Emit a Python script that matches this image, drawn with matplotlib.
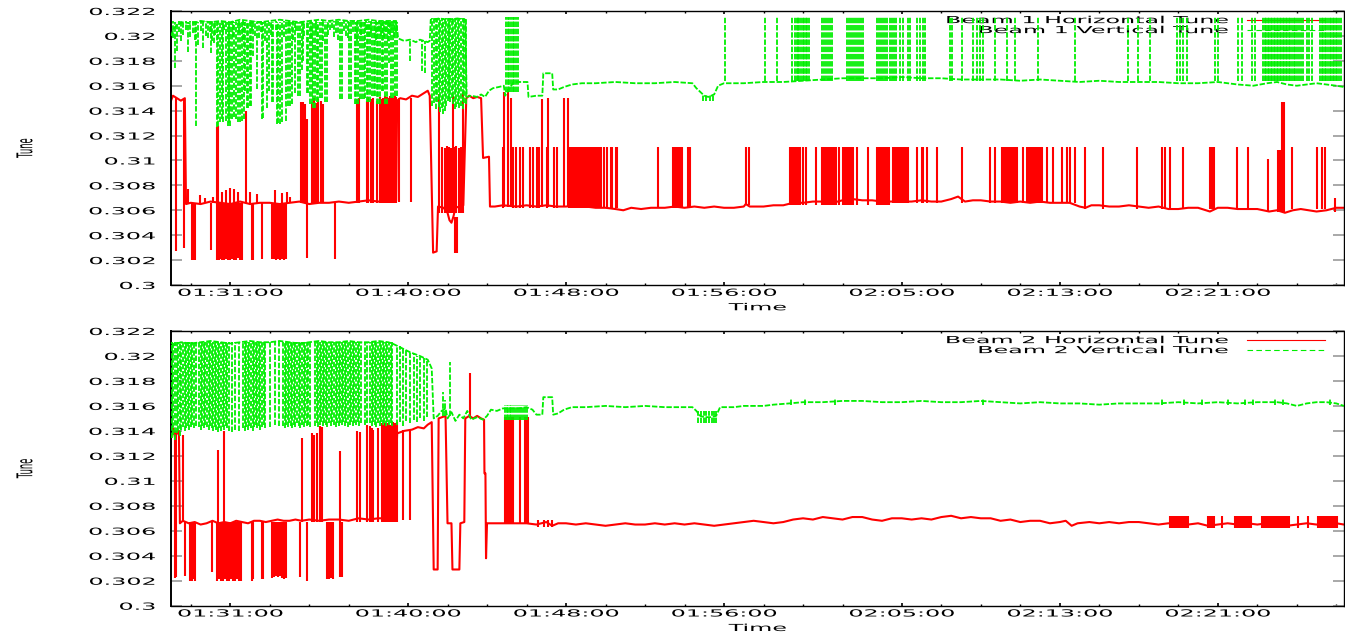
import matplotlib
matplotlib.use("Agg")
import matplotlib.pyplot as plt
from matplotlib.lines import Line2D
from matplotlib.patheffects import AbstractPathEffect
from matplotlib.transforms import Affine2D

# time axis: minutes after 01:28:00
major_t = [3, 12, 20, 28, 37, 45, 53]
major_lab = ["01:31:00", "01:40:00", "01:48:00", "01:56:00", "02:05:00", "02:13:00", "02:21:00"]
minor_t = [1, 5, 7, 9, 14, 16, 18, 22, 24, 26, 30, 32, 34, 39, 41, 43, 47, 49, 51, 55, 57, 59]
ytick_v = [0.300, 0.302, 0.304, 0.306, 0.308, 0.310, 0.312, 0.314, 0.316, 0.318, 0.320, 0.322]
ytick_lab = ["0.3", "0.302", "0.304", "0.306", "0.308", "0.31", "0.312", "0.314", "0.316", "0.318", "0.32", "0.322"]

# ---------------- Beam 1 horizontal tune ----------------
b1h_t = [0.00, 0.10, 0.30, 0.50, 0.70, 0.76, 1.00, 1.50, 2.00, 2.50,
         3.00, 3.50, 4.00, 4.50, 5.00, 5.50, 6.00, 6.50, 7.00, 7.50,
         8.00, 8.50, 9.00, 9.50, 10.00, 10.50, 11.00, 11.40, 11.45, 11.60,
         11.90, 12.20, 12.50, 12.80, 13.00, 13.10, 13.27, 13.45, 13.52, 13.80,
         14.00, 14.10, 14.20, 14.30, 14.40, 14.60, 14.80, 14.95, 15.10, 15.30,
         15.50, 15.70, 15.80, 16.10, 16.15, 16.40, 16.80, 17.50, 18.00, 18.50,
         19.00, 19.50, 20.00, 20.50, 21.00, 21.50, 22.00, 22.50, 22.90, 23.30,
         23.80, 24.30, 25.00, 25.50, 26.00, 26.50, 27.00, 27.50, 28.00, 28.50,
         29.00, 29.10, 29.30, 30.00, 30.50, 31.00, 31.50, 32.00, 32.50, 33.00,
         33.50, 34.00, 34.50, 35.00, 35.50, 36.00, 36.50, 37.00, 37.50, 38.00,
         38.50, 39.00, 39.50, 39.85, 40.20, 40.60, 41.00, 41.50, 42.00, 42.50,
         43.00, 43.50, 44.00, 44.50, 45.00, 45.50, 46.00, 46.30, 46.60, 47.00,
         47.50, 48.00, 48.50, 49.00, 49.50, 50.00, 50.50, 51.00, 51.50, 52.00,
         52.60, 53.00, 53.50, 54.00, 54.50, 55.00, 55.60, 56.00, 56.40, 56.80,
         57.20, 57.60, 58.00, 58.50, 59.00, 59.39]
b1h_v = [0.3148, 0.3152, 0.3150, 0.3148, 0.3150, 0.3065, 0.3066, 0.3065, 0.3067, 0.3066,
         0.3065, 0.3067, 0.3065, 0.3066, 0.3066, 0.3065, 0.3066, 0.3067, 0.3065, 0.3066,
         0.3066, 0.3067, 0.3066, 0.3067, 0.3068, 0.3067, 0.3068, 0.3068, 0.3148, 0.3150,
         0.3149, 0.3152, 0.3151, 0.3154, 0.3156, 0.3152, 0.3026, 0.3027, 0.3063, 0.3062,
         0.3058, 0.3052, 0.3050, 0.3055, 0.3062, 0.3063, 0.3064, 0.3150, 0.3152, 0.3150,
         0.3151, 0.3150, 0.3102, 0.3103, 0.3063, 0.3063, 0.3064, 0.3063, 0.3064, 0.3063,
         0.3064, 0.3063, 0.3063, 0.3064, 0.3063, 0.3062, 0.3062, 0.3061, 0.3060, 0.3062,
         0.3061, 0.3062, 0.3062, 0.3063, 0.3062, 0.3063, 0.3062, 0.3063, 0.3062, 0.3062,
         0.3063, 0.3065, 0.3063, 0.3063, 0.3064, 0.3064, 0.3066, 0.3066, 0.3067, 0.3067,
         0.3066, 0.3068, 0.3069, 0.3068, 0.3068, 0.3067, 0.3067, 0.3067, 0.3067, 0.3068,
         0.3067, 0.3067, 0.3069, 0.3071, 0.3067, 0.3068, 0.3068, 0.3067, 0.3067, 0.3066,
         0.3067, 0.3066, 0.3067, 0.3066, 0.3066, 0.3066, 0.3063, 0.3062, 0.3064, 0.3064,
         0.3063, 0.3063, 0.3064, 0.3063, 0.3062, 0.3063, 0.3061, 0.3061, 0.3062, 0.3062,
         0.3059, 0.3062, 0.3062, 0.3061, 0.3061, 0.3061, 0.3059, 0.3060, 0.3058, 0.3060,
         0.3061, 0.3060, 0.3059, 0.3060, 0.3062, 0.3062]

# excursions drawn as vertical strokes: times, low end, high end
b1h_start_dn_t = [0.25, 0.66]
b1h_start_dn_lo = [0.3027, 0.3030]
b1h_start_dn_hi = 0.3150

b1h_dn_t = [1.06, 1.11, 1.16, 1.22, 2.03, 2.33, 2.43, 2.53, 2.58, 2.68,
            2.78, 2.89, 2.99, 3.09, 3.19, 3.29, 3.39, 3.49, 3.59, 4.10,
            4.15, 4.61, 5.11, 5.22, 5.32, 5.42, 5.52, 5.62, 5.72, 5.82,
            6.89, 8.30]
b1h_dn_lo = [0.3020, 0.3020, 0.3021, 0.3020, 0.3028, 0.3020, 0.3020, 0.3021, 0.3020, 0.3020,
             0.3021, 0.3020, 0.3020, 0.3021, 0.3020, 0.3020, 0.3022, 0.3020, 0.3020, 0.3020,
             0.3020, 0.3021, 0.3021, 0.3021, 0.3020, 0.3021, 0.3020, 0.3021, 0.3020, 0.3021,
             0.3022, 0.3021]
b1h_dn_hi = 0.3066

b1h_up_t = [0.86, 1.47, 1.72, 2.13, 2.33, 2.38, 2.58, 2.78, 2.99, 3.19,
            3.39, 3.80, 4.00, 4.35, 5.27, 5.62, 5.87, 6.03, 6.58, 6.68,
            6.78, 6.89, 7.14, 7.24, 7.34, 7.44, 7.59, 7.70, 9.42, 9.52,
            9.92, 9.97, 10.13, 10.23, 10.43, 10.58, 10.66, 10.73, 10.81, 10.88,
            10.94, 11.01, 11.07, 11.14, 11.20, 11.27, 11.33, 11.40]
b1h_up_hi = [0.3077, 0.3072, 0.3070, 0.3071, 0.3127, 0.3128, 0.3075, 0.3076, 0.3078, 0.3077,
             0.3075, 0.3140, 0.3075, 0.3073, 0.3076, 0.3074, 0.3075, 0.3071, 0.3147, 0.3147,
             0.3145, 0.3133, 0.3147, 0.3150, 0.3146, 0.3149, 0.3148, 0.3145, 0.3149, 0.3150,
             0.3148, 0.3151, 0.3149, 0.3150, 0.3148, 0.3151, 0.3149, 0.3150, 0.3152, 0.3149,
             0.3151, 0.3150, 0.3152, 0.3149, 0.3151, 0.3150, 0.3152, 0.3151]
b1h_up_lo = 0.3066

b1h_back_t = [11.52, 12.15]
b1h_back_lo = 0.3067
b1h_back_hi = 0.3150

b1h_mid_t = [13.55, 13.72, 13.87, 13.97, 14.08, 14.18, 14.28, 14.33, 14.43, 14.58, 14.68, 14.78]
b1h_mid_hi = [0.3153, 0.3111, 0.3110, 0.3112, 0.3111, 0.3110, 0.3152, 0.3111, 0.3112, 0.3110, 0.3111, 0.3155]
b1h_mid_lo = 0.3058
b1h_mid_dn_t = [14.38, 14.48]
b1h_mid_dn_lo = 0.3026
b1h_mid_dn_hi = 0.3055

b1h_tall_t = [16.86, 17.06, 17.21, 18.77, 19.09, 19.90, 20.10]
b1h_tall_hi = [0.3155, 0.3157, 0.3150, 0.3149, 0.3150, 0.3150, 0.3150]
b1h_tall_lo = 0.3063

b1h_med_a_t = [16.81, 17.32, 17.47, 17.67, 17.82, 18.18, 18.33, 18.53, 18.63, 19.04,
               19.39, 19.54, 20.15, 20.22, 20.28, 20.35, 20.41, 20.47, 20.54, 20.60,
               20.66, 20.73, 20.80, 20.86, 20.92, 21.00, 21.07, 21.13, 21.20, 21.26,
               21.33, 21.41, 21.47, 21.55, 21.62, 21.70, 21.76, 21.92, 22.10, 22.27,
               22.35, 22.52, 22.60, 24.66, 25.42, 25.52, 25.62, 25.67, 25.77, 25.87,
               26.18, 26.28]
b1h_med_a_lo = 0.3062
b1h_med_b_t = [29.13, 29.25, 31.34, 31.42, 31.49, 31.57, 31.65, 31.75, 31.85, 32.00,
               32.15, 32.66, 32.96, 33.06, 33.16, 33.27, 33.37, 33.47, 33.57, 33.67,
               33.82, 34.03, 34.13, 34.23, 34.33, 34.43, 34.53, 34.73, 35.29, 35.75,
               35.85, 35.95, 36.05, 36.15, 36.25, 36.35]
b1h_med_b_lo = 0.3064
b1h_med_c_t = [36.56, 36.63, 36.71, 36.80, 36.88, 36.96, 37.05, 37.15, 37.25, 37.32,
               37.77, 38.03, 38.08, 38.28, 38.78, 40.05, 41.47, 41.72, 42.08, 42.15,
               42.23, 42.30, 42.38, 42.46, 42.54, 42.62, 42.70, 42.78, 42.84, 43.14,
               43.34, 43.40, 43.47, 43.55, 43.62, 43.70, 43.78, 43.86, 43.94, 44.00,
               44.10, 44.35, 44.66, 45.11, 45.37, 45.52, 45.77]
b1h_med_c_lo = 0.3066
b1h_med_d_t = [46.28, 47.19, 48.91, 50.18, 50.33, 50.58, 51.24, 52.61, 52.71, 52.81,
               53.96, 54.53, 56.76, 58.03, 58.28, 58.43]
b1h_med_d_lo = 0.3061
b1h_med_hi = 0.3111

b1h_late_t = [55.54, 56.05, 56.15, 56.25, 56.30, 56.35, 58.94]
b1h_late_hi = [0.3101, 0.3108, 0.3108, 0.3147, 0.3147, 0.3147, 0.3070]
b1h_late_lo = 0.3059

# ---------------- Beam 1 vertical tune ----------------
b1v_t = [0.00, 0.15, 0.30, 0.60, 1.00, 1.50, 2.00, 2.50, 3.00, 3.50,
         4.00, 4.50, 5.00, 5.50, 6.00, 6.50, 7.00, 7.50, 8.00, 8.50,
         9.00, 9.50, 10.00, 10.50, 11.00, 11.40, 11.50, 11.80, 12.10, 12.40,
         12.60, 12.80, 13.00, 13.10, 13.15, 13.60, 14.00, 14.50, 14.90, 14.97,
         15.20, 15.50, 15.70, 15.90, 16.10, 16.30, 16.60, 16.85, 16.92, 17.10,
         17.35, 17.70, 18.05, 18.10, 18.50, 18.80, 18.85, 19.30, 19.35, 19.60,
         19.90, 20.30, 20.80, 21.50, 22.50, 23.50, 24.50, 25.50, 26.40, 26.60,
         26.80, 27.00, 27.20, 27.50, 27.70, 28.00, 29.00, 30.00, 31.00, 32.00,
         33.00, 34.00, 35.00, 36.00, 37.00, 38.00, 39.00, 40.00, 41.00, 42.00,
         43.00, 44.00, 45.00, 46.00, 47.00, 48.00, 49.00, 50.00, 51.00, 52.00,
         53.00, 54.00, 54.80, 55.50, 56.00, 56.50, 57.00, 57.50, 58.00, 58.50,
         59.00, 59.39]
b1v_v = [0.3200, 0.3206, 0.3209, 0.3211, 0.3210, 0.3212, 0.3211, 0.3212, 0.3211, 0.3213,
         0.3212, 0.3211, 0.3212, 0.3213, 0.3212, 0.3211, 0.3212, 0.3213, 0.3212, 0.3213,
         0.3212, 0.3212, 0.3213, 0.3212, 0.3212, 0.3212, 0.3198, 0.3196, 0.3197, 0.3195,
         0.3197, 0.3196, 0.3195, 0.3196, 0.3213, 0.3214, 0.3213, 0.3214, 0.3213, 0.3151,
         0.3152, 0.3151, 0.3153, 0.3151, 0.3156, 0.3158, 0.3159, 0.3160, 0.3152, 0.3157,
         0.3163, 0.3163, 0.3163, 0.3151, 0.3152, 0.3152, 0.3170, 0.3170, 0.3157, 0.3157,
         0.3159, 0.3161, 0.3162, 0.3162, 0.3163, 0.3162, 0.3162, 0.3163, 0.3162, 0.3158,
         0.3155, 0.3152, 0.3151, 0.3153, 0.3160, 0.3162, 0.3162, 0.3163, 0.3163, 0.3164,
         0.3165, 0.3166, 0.3166, 0.3166, 0.3167, 0.3166, 0.3166, 0.3165, 0.3165, 0.3165,
         0.3164, 0.3165, 0.3164, 0.3163, 0.3164, 0.3163, 0.3163, 0.3163, 0.3162, 0.3162,
         0.3163, 0.3161, 0.3160, 0.3162, 0.3163, 0.3161, 0.3160, 0.3161, 0.3162, 0.3161,
         0.3160, 0.3159]

b1v_dn_t = [0.20, 0.30, 0.86, 1.27, 1.37, 1.62, 2.03, 2.18, 2.33, 2.38,
            2.48, 2.58, 2.63, 2.78, 2.89, 2.94, 2.99, 3.09, 3.19, 3.29,
            3.39, 3.49, 3.59, 3.70, 3.75, 3.85, 3.90, 4.00, 4.05, 4.15,
            4.35, 4.61, 4.66, 4.86, 4.96, 5.11, 5.16, 5.37, 5.42, 5.52,
            5.62, 5.82, 5.92, 6.03, 6.13, 6.28, 6.43, 6.53, 6.63, 6.68,
            6.89, 6.94, 7.04, 7.14, 7.19, 7.29, 7.39, 7.44, 7.54, 7.65,
            7.80, 7.90, 8.15, 8.56, 8.66, 9.01, 9.11, 9.32, 9.37, 9.47,
            9.57, 9.67, 9.77, 9.82, 9.92, 9.97, 10.08, 10.18, 10.28, 10.33,
            10.43, 10.48, 10.58, 10.68, 10.73, 10.84, 10.94, 11.04, 11.14, 11.24,
            11.34, 11.44]
b1v_dn_lo = [0.3174, 0.3188, 0.3187, 0.3128, 0.3193, 0.3190, 0.3186, 0.3194, 0.3127, 0.3128,
             0.3131, 0.3133, 0.3131, 0.3132, 0.3128, 0.3130, 0.3128, 0.3133, 0.3135, 0.3133,
             0.3131, 0.3131, 0.3132, 0.3133, 0.3156, 0.3142, 0.3142, 0.3144, 0.3144, 0.3184,
             0.3157, 0.3133, 0.3134, 0.3142, 0.3156, 0.3147, 0.3147, 0.3129, 0.3130, 0.3129,
             0.3131, 0.3132, 0.3144, 0.3144, 0.3145, 0.3154, 0.3152, 0.3152, 0.3173, 0.3180,
             0.3154, 0.3154, 0.3145, 0.3145, 0.3142, 0.3142, 0.3147, 0.3147, 0.3150, 0.3150,
             0.3147, 0.3147, 0.3206, 0.3149, 0.3149, 0.3149, 0.3149, 0.3145, 0.3145, 0.3145,
             0.3149, 0.3149, 0.3149, 0.3150, 0.3147, 0.3147, 0.3147, 0.3152, 0.3152, 0.3152,
             0.3145, 0.3145, 0.3145, 0.3156, 0.3156, 0.3145, 0.3145, 0.3178, 0.3150, 0.3150,
             0.3152, 0.3152]
b1v_dn_hi = 0.3211

b1v_short_t = [0.08, 0.42, 0.52, 0.62, 0.74, 0.98, 1.10, 1.20, 1.50, 1.75,
               1.85, 1.95, 2.10, 2.25, 2.70, 3.15, 3.45, 3.62, 4.10, 4.25,
               4.45, 4.55, 4.75, 5.05, 5.30, 5.70, 5.98, 6.20, 6.35, 6.75,
               7.10, 7.35, 7.70, 7.97, 8.05, 8.25, 8.35, 8.45, 8.75, 8.85,
               8.95, 9.20, 9.42, 9.62, 9.87, 10.02, 10.13, 10.38, 10.53, 10.63,
               10.78, 10.89, 10.99, 11.09, 11.19, 11.29, 11.39]
b1v_short_lo = [0.3198, 0.3203, 0.3196, 0.3201, 0.3205, 0.3199, 0.3202, 0.3197, 0.3204, 0.3200,
                0.3198, 0.3203, 0.3196, 0.3201, 0.3205, 0.3199, 0.3202, 0.3197, 0.3204, 0.3200,
                0.3198, 0.3203, 0.3196, 0.3201, 0.3205, 0.3199, 0.3202, 0.3197, 0.3204, 0.3200,
                0.3198, 0.3203, 0.3196, 0.3201, 0.3205, 0.3199, 0.3202, 0.3197, 0.3204, 0.3200,
                0.3198, 0.3203, 0.3196, 0.3201, 0.3205, 0.3199, 0.3202, 0.3197, 0.3204, 0.3200,
                0.3198, 0.3203, 0.3196, 0.3201, 0.3205, 0.3199, 0.3202]
b1v_short_hi = 0.3212

b1v_shelf_t = [12.10, 12.71, 12.86]
b1v_shelf_lo = [0.3180, 0.3172, 0.3170]
b1v_shelf_hi = 0.3196

b1v_tog_t = [13.20, 13.30, 13.40, 13.47, 13.55, 13.62, 13.70, 13.78, 13.85, 13.92,
             14.00, 14.08, 14.15, 14.23, 14.30, 14.38, 14.45, 14.53, 14.60, 14.68,
             14.76, 14.84, 14.92]
b1v_tog_lo = [0.3144, 0.3146, 0.3141, 0.3147, 0.3143, 0.3139, 0.3142, 0.3137, 0.3140, 0.3144,
              0.3148, 0.3149, 0.3147, 0.3150, 0.3145, 0.3141, 0.3143, 0.3145, 0.3142, 0.3144,
              0.3141, 0.3146, 0.3145]
b1v_tog_hi = 0.3214

b1v_burst_t = [16.96, 17.05, 17.13, 17.22, 17.30, 17.38, 17.47, 17.55]
b1v_burst_lo = 0.3155
b1v_burst_hi = 0.3215

b1v_dip_t = [26.95, 27.10, 27.30, 27.45]
b1v_dip_lo = 0.3148
b1v_dip_hi = 0.3153

b1v_up_t = [28.05, 30.08, 30.68, 31.44, 31.59, 31.67, 31.75, 31.82, 31.90, 31.98,
            32.05, 32.13, 32.20, 32.30, 32.96, 33.06, 33.16, 33.27, 33.37, 33.47,
            34.23, 34.33, 34.43, 34.53, 34.63, 34.73, 34.83, 34.95, 35.04, 35.75,
            35.85, 35.95, 36.05, 36.15, 36.25, 36.41, 36.50, 36.60, 36.70, 36.91,
            37.06, 37.32, 37.42, 37.77, 37.92, 38.08, 38.18, 39.44, 39.54, 40.05,
            40.61, 40.81, 40.96, 41.11, 41.72, 42.33, 42.73, 43.90, 45.77, 48.46,
            48.96, 49.57, 50.94, 51.09, 51.24, 51.44, 52.86, 53.01, 54.03, 54.23,
            54.73, 54.89, 55.29, 55.37, 55.45, 55.52, 55.60, 55.68, 55.75, 55.83,
            55.90, 55.98, 56.06, 56.13, 56.21, 56.29, 56.36, 56.44, 56.52, 56.60,
            56.68, 56.76, 56.84, 56.92, 57.00, 57.10, 57.20, 57.32, 57.52, 57.62,
            57.77, 58.18, 58.26, 58.34, 58.42, 58.50, 58.58, 58.66, 58.74, 58.82,
            58.90, 58.98, 59.06, 59.14, 59.22]
b1v_up_lo = 0.3164
b1v_up_hi = 0.3215

# ---------------- Beam 2 horizontal tune ----------------
b2h_t = [0.00, 0.10, 0.20, 0.30, 0.40, 0.45, 0.60, 0.90, 1.20, 1.50,
         1.80, 2.10, 2.40, 2.70, 3.00, 3.30, 3.60, 3.90, 4.20, 4.50,
         4.80, 5.10, 5.40, 5.70, 6.00, 6.30, 6.60, 7.00, 7.50, 8.00,
         8.50, 9.00, 9.50, 10.00, 10.50, 11.00, 11.30, 11.45, 11.80, 12.20,
         12.50, 12.80, 13.00, 13.10, 13.20, 13.30, 13.50, 13.55, 13.90, 14.00,
         14.20, 14.25, 14.60, 14.65, 14.85, 14.90, 15.10, 15.30, 15.50, 15.70,
         15.85, 15.87, 15.92, 15.95, 16.00, 16.50, 17.00, 17.50, 18.00, 18.50,
         19.00, 19.30, 19.60, 20.00, 20.50, 21.00, 21.50, 22.00, 22.50, 23.00,
         23.50, 24.00, 24.50, 25.00, 25.50, 26.00, 26.50, 27.00, 27.50, 28.00,
         28.50, 29.00, 29.50, 30.00, 30.50, 31.00, 31.50, 32.00, 32.50, 33.00,
         33.50, 34.00, 34.50, 35.00, 35.50, 36.00, 36.50, 37.00, 37.50, 38.00,
         38.50, 39.00, 39.50, 40.00, 40.50, 41.00, 41.50, 42.00, 42.50, 43.00,
         43.50, 44.00, 44.50, 45.00, 45.30, 45.60, 45.90, 46.50, 47.00, 47.50,
         48.00, 48.50, 49.00, 49.50, 50.00, 50.50, 51.00, 51.50, 52.00, 52.50,
         53.00, 53.50, 54.00, 54.50, 55.00, 55.50, 56.00, 56.50, 57.00, 57.50,
         58.00, 58.50, 59.00, 59.39]
b2h_v = [0.3140, 0.3142, 0.3135, 0.3138, 0.3140, 0.3066, 0.3068, 0.3066, 0.3067, 0.3065,
         0.3066, 0.3068, 0.3066, 0.3067, 0.3066, 0.3068, 0.3067, 0.3066, 0.3068, 0.3068,
         0.3067, 0.3068, 0.3069, 0.3068, 0.3068, 0.3069, 0.3068, 0.3069, 0.3068, 0.3069,
         0.3069, 0.3068, 0.3070, 0.3069, 0.3070, 0.3070, 0.3070, 0.3138, 0.3140, 0.3141,
         0.3143, 0.3142, 0.3145, 0.3146, 0.3147, 0.3029, 0.3029, 0.3150, 0.3152, 0.3066,
         0.3066, 0.3029, 0.3029, 0.3066, 0.3067, 0.3150, 0.3152, 0.3150, 0.3152, 0.3150,
         0.3149, 0.3106, 0.3106, 0.3038, 0.3066, 0.3066, 0.3066, 0.3066, 0.3066, 0.3065,
         0.3067, 0.3064, 0.3066, 0.3066, 0.3065, 0.3066, 0.3065, 0.3064, 0.3065, 0.3066,
         0.3065, 0.3065, 0.3066, 0.3065, 0.3066, 0.3065, 0.3066, 0.3065, 0.3064, 0.3065,
         0.3066, 0.3067, 0.3068, 0.3067, 0.3066, 0.3067, 0.3069, 0.3070, 0.3069, 0.3071,
         0.3070, 0.3069, 0.3071, 0.3071, 0.3069, 0.3068, 0.3070, 0.3070, 0.3069, 0.3070,
         0.3069, 0.3071, 0.3072, 0.3070, 0.3071, 0.3070, 0.3070, 0.3068, 0.3069, 0.3067,
         0.3068, 0.3068, 0.3066, 0.3067, 0.3068, 0.3064, 0.3066, 0.3067, 0.3066, 0.3067,
         0.3066, 0.3067, 0.3067, 0.3066, 0.3065, 0.3066, 0.3065, 0.3065, 0.3066, 0.3064,
         0.3065, 0.3066, 0.3065, 0.3066, 0.3065, 0.3066, 0.3065, 0.3064, 0.3065, 0.3066,
         0.3065, 0.3066, 0.3066, 0.3065]

b2h_start_dn_t = [0.20, 0.25]
b2h_start_dn_lo = [0.3022, 0.3023]
b2h_start_dn_hi = 0.3140

b2h_dn_t = [0.71, 0.96, 1.06, 1.16, 1.22, 2.08, 2.33, 2.43, 2.53, 2.63,
            2.73, 2.83, 2.94, 3.04, 3.14, 3.24, 3.34, 3.44, 3.54, 4.10,
            4.15, 4.61, 4.66, 5.11, 5.22, 5.32, 5.42, 5.52, 5.62, 5.72,
            5.82, 6.53, 6.89, 7.90, 8.00, 8.10, 8.20, 8.56, 8.66]
b2h_dn_lo = [0.3024, 0.3020, 0.3020, 0.3021, 0.3020, 0.3027, 0.3020, 0.3021, 0.3020, 0.3020,
             0.3021, 0.3020, 0.3020, 0.3021, 0.3020, 0.3020, 0.3021, 0.3020, 0.3020, 0.3020,
             0.3021, 0.3021, 0.3021, 0.3022, 0.3023, 0.3024, 0.3023, 0.3024, 0.3022, 0.3021,
             0.3022, 0.3023, 0.3020, 0.3021, 0.3021, 0.3022, 0.3021, 0.3023, 0.3023]
b2h_dn_hi = 0.3067

b2h_up_t = [0.61, 2.38, 2.68, 6.63, 7.14, 7.24, 7.39, 7.54, 7.65, 8.56,
            9.42, 9.57, 9.92, 10.08, 10.18, 10.23, 10.48, 10.68, 10.76, 10.84,
            10.92, 11.00, 11.09, 11.17, 11.25, 11.34, 11.42]
b2h_up_hi = [0.3137, 0.3125, 0.3140, 0.3134, 0.3138, 0.3137, 0.3138, 0.3144, 0.3143, 0.3124,
             0.3140, 0.3139, 0.3145, 0.3144, 0.3142, 0.3141, 0.3142, 0.3146, 0.3145, 0.3146,
             0.3144, 0.3146, 0.3145, 0.3146, 0.3147, 0.3146, 0.3147]
b2h_up_lo = 0.3067

b2h_back_t = [11.75, 12.10]
b2h_back_lo = 0.3069
b2h_back_hi = 0.3141

b2h_peak_t = [15.15]
b2h_peak_lo = 0.3150
b2h_peak_hi = 0.3186

b2h_burst_t = [16.91, 17.01, 17.09, 17.16, 17.25, 17.33, 17.67, 17.92, 18.01, 18.09]
b2h_burst_lo = 0.3066
b2h_burst_hi = 0.3151

b2h_wig_t = [18.60, 18.90, 19.10, 19.30]
b2h_wig_lo = 0.3063
b2h_wig_hi = 0.3069

b2h_late_t = [50.58, 50.66, 50.74, 50.82, 50.90, 50.98, 51.06, 51.14, 51.22, 51.30,
              51.40, 51.50, 52.51, 52.61, 52.71, 52.81, 53.20, 53.87, 53.97, 54.07,
              54.17, 54.27, 54.37, 54.47, 54.57, 54.67, 55.24, 55.32, 55.40, 55.48,
              55.56, 55.64, 55.72, 55.80, 55.88, 55.96, 56.04, 56.12, 56.20, 56.28,
              56.36, 56.44, 56.52, 56.60, 57.06, 57.57, 58.08, 58.16, 58.24, 58.32,
              58.40, 58.48, 58.56, 58.64, 58.72, 58.80, 58.88, 58.96, 59.04]
b2h_late_lo = 0.3062
b2h_late_hi = 0.3072

# ---------------- Beam 2 vertical tune ----------------
b2v_t = [0.00, 0.50, 1.00, 1.50, 2.00, 2.50, 3.00, 3.50, 4.00, 4.50,
         5.00, 5.50, 6.00, 6.50, 7.00, 7.50, 8.00, 8.50, 9.00, 9.50,
         10.00, 10.50, 11.00, 11.20, 11.60, 12.10, 12.60, 13.00, 13.20, 13.30,
         13.50, 13.70, 13.90, 14.00, 14.20, 14.40, 14.60, 14.80, 15.00, 15.20,
         15.50, 15.80, 16.00, 16.20, 16.50, 16.80, 17.60, 18.00, 18.30, 18.50,
         18.80, 18.85, 19.30, 19.35, 19.60, 19.90, 20.30, 21.00, 22.00, 23.00,
         24.00, 25.00, 26.00, 26.40, 26.60, 26.80, 27.00, 27.30, 27.60, 27.80,
         28.50, 29.00, 30.00, 30.50, 31.30, 32.00, 33.00, 34.00, 35.00, 36.00,
         37.00, 38.00, 39.00, 40.00, 41.00, 42.00, 43.00, 44.00, 45.00, 46.00,
         47.00, 48.00, 49.00, 50.00, 51.00, 52.00, 53.00, 54.00, 55.00, 56.00,
         56.50, 57.00, 57.50, 58.00, 58.50, 59.00, 59.39]
b2v_v = [0.3208, 0.3211, 0.3210, 0.3211, 0.3212, 0.3211, 0.3210, 0.3211, 0.3212, 0.3211,
         0.3211, 0.3212, 0.3211, 0.3210, 0.3211, 0.3212, 0.3211, 0.3211, 0.3212, 0.3211,
         0.3211, 0.3212, 0.3211, 0.3210, 0.3207, 0.3203, 0.3200, 0.3197, 0.3190, 0.3150,
         0.3152, 0.3156, 0.3158, 0.3150, 0.3155, 0.3148, 0.3153, 0.3150, 0.3156, 0.3149,
         0.3151, 0.3149, 0.3152, 0.3157, 0.3156, 0.3158, 0.3158, 0.3159, 0.3157, 0.3153,
         0.3153, 0.3167, 0.3167, 0.3153, 0.3154, 0.3157, 0.3159, 0.3159, 0.3160, 0.3159,
         0.3160, 0.3159, 0.3159, 0.3159, 0.3156, 0.3152, 0.3151, 0.3151, 0.3152, 0.3159,
         0.3159, 0.3160, 0.3160, 0.3161, 0.3162, 0.3163, 0.3163, 0.3164, 0.3164, 0.3163,
         0.3163, 0.3164, 0.3163, 0.3163, 0.3164, 0.3163, 0.3162, 0.3163, 0.3162, 0.3162,
         0.3161, 0.3162, 0.3162, 0.3162, 0.3163, 0.3162, 0.3163, 0.3162, 0.3163, 0.3163,
         0.3162, 0.3160, 0.3162, 0.3163, 0.3163, 0.3162, 0.3160]

b2v_dn_t = [0.05, 0.12, 0.21, 0.28, 0.37, 0.44, 0.53, 0.60, 0.69, 0.77,
            0.85, 0.92, 1.01, 1.08, 1.17, 1.25,
            1.42, 1.50, 1.57, 1.66, 1.73, 1.82, 1.90, 1.97, 2.06, 2.14,
            2.21, 2.30, 2.38, 2.45, 2.54, 2.62, 2.69, 2.78, 2.86, 2.94,
            3.09, 3.24, 3.44,
            3.65, 3.73, 3.80, 3.89, 3.97, 4.04, 4.13, 4.21, 4.28, 4.37,
            4.45, 4.52, 4.61, 4.69, 4.77,
            5.01, 5.27, 5.47,
            5.67, 5.75, 5.82, 5.91, 5.99, 6.06, 6.15, 6.23, 6.30, 6.39,
            6.47, 6.54, 6.63, 6.71, 6.78, 6.87, 6.95, 7.03,
            7.29, 7.37, 7.44, 7.53, 7.61, 7.68, 7.77, 7.85, 7.92, 8.01,
            8.09, 8.16, 8.25, 8.33, 8.40, 8.49, 8.57, 8.64, 8.73, 8.81,
            8.88, 8.97, 9.05, 9.12, 9.21, 9.29, 9.36, 9.45, 9.53, 9.61,
            9.82, 9.90,
            10.08, 10.16, 10.23, 10.32, 10.40, 10.47, 10.56, 10.64, 10.71, 10.80,
            10.88, 10.95, 11.04, 11.12, 11.20]
b2v_dn_lo = [0.3134, 0.3137, 0.3133, 0.3138, 0.3140, 0.3136, 0.3141, 0.3143, 0.3140, 0.3142,
             0.3144, 0.3141, 0.3143, 0.3145, 0.3142, 0.3144,
             0.3143, 0.3141, 0.3144, 0.3142, 0.3145, 0.3143, 0.3141, 0.3144, 0.3142, 0.3140,
             0.3143, 0.3141, 0.3139, 0.3142, 0.3140, 0.3143, 0.3141, 0.3144, 0.3142, 0.3140,
             0.3139, 0.3141, 0.3140,
             0.3142, 0.3140, 0.3143, 0.3141, 0.3144, 0.3142, 0.3140, 0.3143, 0.3145, 0.3142,
             0.3144, 0.3141, 0.3143, 0.3145, 0.3142,
             0.3143, 0.3145, 0.3144,
             0.3144, 0.3142, 0.3145, 0.3143, 0.3146, 0.3144, 0.3142, 0.3145, 0.3143, 0.3146,
             0.3144, 0.3142, 0.3145, 0.3143, 0.3146, 0.3144, 0.3145, 0.3143,
             0.3144, 0.3146, 0.3143, 0.3145, 0.3147, 0.3144, 0.3146, 0.3145, 0.3143, 0.3146,
             0.3144, 0.3147, 0.3145, 0.3143, 0.3146, 0.3144, 0.3146, 0.3145, 0.3147, 0.3144,
             0.3146, 0.3143, 0.3145, 0.3147, 0.3144, 0.3146, 0.3145, 0.3147, 0.3144, 0.3146,
             0.3145, 0.3146,
             0.3146, 0.3144, 0.3147, 0.3145, 0.3143, 0.3146, 0.3144, 0.3147, 0.3145, 0.3146,
             0.3144, 0.3147, 0.3145, 0.3146, 0.3144]
b2v_dn_hi = 0.3211

b2v_tail_t = [11.44, 11.60, 11.75, 11.90, 12.10, 12.30, 12.45, 12.60, 12.80, 12.95]
b2v_tail_lo = [0.3145, 0.3147, 0.3144, 0.3148, 0.3146, 0.3149, 0.3147, 0.3150, 0.3148, 0.3151]
b2v_tail_hi = [0.3209, 0.3208, 0.3206, 0.3205, 0.3203, 0.3202, 0.3200, 0.3199, 0.3198, 0.3197]

b2v_peak_t = [13.75, 13.85, 14.13]
b2v_peak_lo = 0.3152
b2v_peak_hi = [0.3171, 0.3165, 0.3195]

b2v_tog_t = [16.91, 16.99, 17.06, 17.14, 17.22, 17.30, 17.40, 17.50, 17.60, 17.70,
             17.80, 17.92, 18.03]
b2v_tog_lo = 0.3149
b2v_tog_hi = 0.3161

b2v_dip_t = [26.70, 26.85, 27.00, 27.10, 27.25, 27.40, 27.50, 27.60]
b2v_dip_lo = 0.3146
b2v_dip_hi = 0.3156

b2v_blip_t = [31.40, 32.10, 33.60, 41.11, 50.20, 51.30, 52.20, 53.50, 54.40, 54.80,
              55.90, 56.30, 58.70]
b2v_blip_lo = 0.3161
b2v_blip_hi = 0.3166

labels_top = ["Beam 1 Horizontal Tune", "Beam 1 Vertical Tune"]
labels_bot = ["Beam 2 Horizontal Tune", "Beam 2 Vertical Tune"]

RED = "#ff0000"
GREEN = "#00ee00"
DASH = (0, (3, 1))
WIDE = 2.45


class Widen(AbstractPathEffect):
    """Stretch text glyphs sideways about one edge of their ink box."""

    def __init__(self, sx, anchor="center"):
        super().__init__()
        self.sx = sx
        self.anchor = anchor

    def draw_path(self, renderer, gc, tpath, affine, rgbFace=None):
        bb = tpath.get_extents(affine)
        if self.anchor == "right":
            x0 = bb.x1
        elif self.anchor == "left":
            x0 = bb.x0
        else:
            x0 = 0.5 * (bb.x0 + bb.x1)
        stretch = Affine2D().translate(-x0, 0).scale(self.sx, 1).translate(x0, 0)
        renderer.draw_path(gc, tpath, affine + stretch, rgbFace)


fig = plt.figure(figsize=(13.45, 6.34), dpi=100)
ax1 = fig.add_axes([0.12714, 0.55047, 0.87212, 0.43218])
ax2 = fig.add_axes([0.12714, 0.04464, 0.87212, 0.43328])


def strokes(ax, t, lo, hi, color, dashed=False):
    if dashed:
        ax.vlines(t, lo, hi, colors=color, linewidth=1.3, linestyles=DASH, zorder=3)
    else:
        ax.vlines(t, lo, hi, colors=color, linewidth=1.5, zorder=2)


# top panel
ax1.plot(b1h_t, b1h_v, color=RED, lw=1.5, zorder=2)
strokes(ax1, b1h_start_dn_t, b1h_start_dn_lo, b1h_start_dn_hi, RED)
strokes(ax1, b1h_dn_t, b1h_dn_lo, b1h_dn_hi, RED)
strokes(ax1, b1h_up_t, b1h_up_lo, b1h_up_hi, RED)
strokes(ax1, b1h_back_t, b1h_back_lo, b1h_back_hi, RED)
strokes(ax1, b1h_mid_t, b1h_mid_lo, b1h_mid_hi, RED)
strokes(ax1, b1h_mid_dn_t, b1h_mid_dn_lo, b1h_mid_dn_hi, RED)
strokes(ax1, b1h_tall_t, b1h_tall_lo, b1h_tall_hi, RED)
strokes(ax1, b1h_med_a_t, b1h_med_a_lo, b1h_med_hi, RED)
strokes(ax1, b1h_med_b_t, b1h_med_b_lo, b1h_med_hi, RED)
strokes(ax1, b1h_med_c_t, b1h_med_c_lo, b1h_med_hi, RED)
strokes(ax1, b1h_med_d_t, b1h_med_d_lo, b1h_med_hi, RED)
strokes(ax1, b1h_late_t, b1h_late_lo, b1h_late_hi, RED)

ax1.plot(b1v_t, b1v_v, color=GREEN, lw=1.3, ls=DASH, zorder=3)
strokes(ax1, b1v_dn_t, b1v_dn_lo, b1v_dn_hi, GREEN, True)
strokes(ax1, b1v_short_t, b1v_short_lo, b1v_short_hi, GREEN, True)
strokes(ax1, b1v_shelf_t, b1v_shelf_lo, b1v_shelf_hi, GREEN, True)
strokes(ax1, b1v_tog_t, b1v_tog_lo, b1v_tog_hi, GREEN, True)
strokes(ax1, b1v_burst_t, b1v_burst_lo, b1v_burst_hi, GREEN, True)
strokes(ax1, b1v_dip_t, b1v_dip_lo, b1v_dip_hi, GREEN, True)
strokes(ax1, b1v_up_t, b1v_up_lo, b1v_up_hi, GREEN, True)

# bottom panel
ax2.plot(b2h_t, b2h_v, color=RED, lw=1.5, zorder=2)
strokes(ax2, b2h_start_dn_t, b2h_start_dn_lo, b2h_start_dn_hi, RED)
strokes(ax2, b2h_dn_t, b2h_dn_lo, b2h_dn_hi, RED)
strokes(ax2, b2h_up_t, b2h_up_lo, b2h_up_hi, RED)
strokes(ax2, b2h_back_t, b2h_back_lo, b2h_back_hi, RED)
strokes(ax2, b2h_peak_t, b2h_peak_lo, b2h_peak_hi, RED)
strokes(ax2, b2h_burst_t, b2h_burst_lo, b2h_burst_hi, RED)
strokes(ax2, b2h_wig_t, b2h_wig_lo, b2h_wig_hi, RED)
strokes(ax2, b2h_late_t, b2h_late_lo, b2h_late_hi, RED)

ax2.plot(b2v_t, b2v_v, color=GREEN, lw=1.3, ls=DASH, zorder=3)
strokes(ax2, b2v_dn_t, b2v_dn_lo, b2v_dn_hi, GREEN, True)
strokes(ax2, b2v_tail_t, b2v_tail_lo, b2v_tail_hi, GREEN, True)
strokes(ax2, b2v_peak_t, b2v_peak_lo, b2v_peak_hi, GREEN, True)
strokes(ax2, b2v_tog_t, b2v_tog_lo, b2v_tog_hi, GREEN, True)
strokes(ax2, b2v_dip_t, b2v_dip_lo, b2v_dip_hi, GREEN, True)
strokes(ax2, b2v_blip_t, b2v_blip_lo, b2v_blip_hi, GREEN, True)

for ax, labels in ((ax1, labels_top), (ax2, labels_bot)):
    ax.set_xlim(0, 59.39)
    ax.set_ylim(0.300, 0.322)
    ax.set_xticks(major_t, major_lab)
    ax.set_xticks(minor_t, minor=True)
    ax.set_yticks(ytick_v, ytick_lab)
    ax.tick_params(axis="x", which="major", direction="in", length=2.5, width=1.2,
                   colors="black", top=True, labelsize=7, pad=2)
    ax.tick_params(axis="x", which="minor", direction="in", length=1.5, width=1.0, top=True)
    ax.tick_params(axis="y", direction="in", length=8, width=1.2, color="#999999",
                   labelcolor="black", right=True, labelsize=7, pad=11.5)
    for lab in ax.get_xticklabels():
        lab.set_path_effects([Widen(WIDE)])
    for lab in ax.get_yticklabels():
        lab.set_path_effects([Widen(WIDE, "right")])
    for side in ("top", "right", "bottom"):
        ax.spines[side].set_linewidth(1.0)
    ax.spines["left"].set_linewidth(1.4)

    ax.set_xlabel("Time", fontsize=7)
    ax.xaxis.set_label_coords(0.5, -0.063)
    ax.xaxis.label.set_path_effects([Widen(WIDE)])
    ax.set_ylabel("Tune", fontsize=6)
    ax.yaxis.set_label_coords(-0.1245, 0.5)
    ax.yaxis.label.set_va("center")
    ax.yaxis.label.set_path_effects([Widen(2.6)])

    handles = [Line2D([], [], color=RED, lw=0.8),
               Line2D([], [], color=GREEN, lw=0.8, ls=(0, (5, 3)))]
    leg = ax.legend(handles, labels, loc="upper right", bbox_to_anchor=(0.9838, 0.985),
                    frameon=False, markerfirst=False, fontsize=7, handlelength=8,
                    handletextpad=1.9, borderpad=0, borderaxespad=0, labelspacing=0.0)
    leg.set_zorder(1)
    for txt in leg.get_texts():
        txt.set_path_effects([Widen(WIDE, "right")])

fig.savefig("out.png", dpi=100)
